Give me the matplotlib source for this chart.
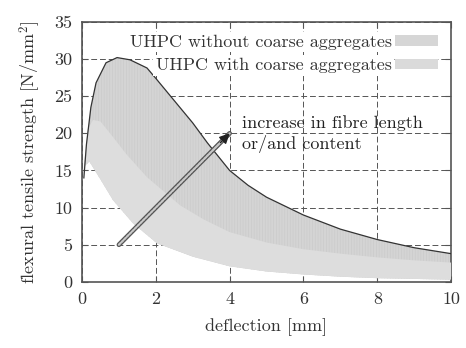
import matplotlib
matplotlib.use("Agg")
import matplotlib.pyplot as plt
from matplotlib.patches import Patch
import numpy as np

plt.rcParams['font.family'] = ['cmr10', 'DejaVu Serif']
plt.rcParams['mathtext.fontset'] = 'cm'
plt.rcParams['axes.unicode_minus'] = False
plt.rcParams['hatch.linewidth'] = 0.5

# UHPC without coarse aggregates - upper bound
upper_x = [0.05, 0.12, 0.24, 0.38, 0.65, 0.95, 1.3, 1.76, 2.0, 2.4, 3.0, 3.4,
           4.0, 4.5, 5.0, 6.0, 7.0, 8.0, 9.0, 10.0]
upper_y = [14.0, 18.5, 23.5, 26.8, 29.5, 30.2, 29.9, 28.8, 27.4, 25.0, 21.4, 18.7,
           15.0, 13.0, 11.4, 9.0, 7.1, 5.7, 4.6, 3.8]

# UHPC with coarse aggregates - upper bound
mid_x = [0.05, 0.15, 0.3, 0.5, 0.84, 1.2, 1.76, 2.66, 3.3, 4.0, 5.0, 6.0, 7.0,
         8.0, 9.0, 10.0]
mid_y = [15.5, 20.5, 21.8, 21.6, 19.5, 17.2, 14.1, 10.3, 8.4, 6.7, 5.3, 4.4, 3.8,
         3.3, 2.9, 2.6]

# common lower bound
lower_x = [0.05, 0.2, 0.5, 0.84, 1.38, 2.03, 3.0, 4.0, 5.0, 6.0, 7.0, 8.0, 9.0, 10.0]
lower_y = [15.5, 16.2, 13.8, 11.0, 7.9, 5.2, 3.4, 2.1, 1.4, 1.0, 0.7, 0.5, 0.4, 0.3]

arrow_start = (1.0, 5.0)
arrow_end = (4.0, 20.0)

fig = plt.figure(figsize=(4.66, 3.48), dpi=100)
ax = fig.add_axes([0.176, 0.190, 0.792, 0.747])

ax.set_axisbelow(True)
ax.grid(True, linestyle=(0, (6, 3)), color='#555555', linewidth=0.7)

# band 1: between upper curve and lower curve
poly_x = np.concatenate([upper_x, lower_x[::-1]])
poly_y = np.concatenate([upper_y, lower_y[::-1]])
ax.fill(poly_x, poly_y, facecolor='#d4d4d4', edgecolor='#cbcbcb', linewidth=0,
        hatch='||||||', zorder=2)
ax.plot(upper_x, upper_y, color='#333333', linewidth=0.9, zorder=4)

# band 2: between middle curve and lower curve
poly2_x = np.concatenate([mid_x, lower_x[::-1]])
poly2_y = np.concatenate([mid_y, lower_y[::-1]])
ax.fill(poly2_x, poly2_y, facecolor='#dddddd', edgecolor='none', zorder=3)

# arrow
ax.annotate('', xy=arrow_end, xytext=arrow_start,
            arrowprops=dict(arrowstyle='-', color='#555555', lw=3.4,
                            shrinkA=0, shrinkB=0), zorder=5)
ax.annotate('', xy=arrow_end, xytext=arrow_start,
            arrowprops=dict(arrowstyle='-', color='#c8c8c8', lw=1.6,
                            linestyle=(0, (1, 0.7)), shrinkA=0, shrinkB=0), zorder=6)
ax.annotate('', xy=arrow_end, xytext=(3.75, 18.75),
            arrowprops=dict(arrowstyle='-|>,head_length=0.6,head_width=0.3',
                            color='#222222', lw=1, shrinkA=0, shrinkB=0), zorder=7)

ax.text(4.34, 19.9, 'increase in fibre length\nor/and content', fontsize=13,
        ha='left', va='center', linespacing=1.3, color='#222222', zorder=8)

ax.set_xlim(0, 10)
ax.set_ylim(0, 35)
ax.set_xticks([0, 2, 4, 6, 8, 10])
ax.set_yticks([0, 5, 10, 15, 20, 25, 30, 35])
ax.tick_params(direction='in', top=True, right=True, labelsize=13, length=4,
               color='#555555', labelcolor='#333333', pad=7)
for s in ax.spines.values():
    s.set_color('#555555')
    s.set_linewidth(1.2)

ax.set_xlabel('deflection [mm]', fontsize=13, color='#333333', labelpad=8)
ax.set_ylabel(r'flexural tensile strength [N/mm$^2$]', fontsize=13,
              color='#333333', labelpad=8)

handles = [Patch(facecolor='#d6d6d6', edgecolor='none'),
           Patch(facecolor='#dadada', edgecolor='none')]
leg = ax.legend(handles, ['UHPC without coarse aggregates', 'UHPC with coarse aggregates'],
                loc='upper right', markerfirst=False, fontsize=13, frameon=False,
                handlelength=2.4, handleheight=0.5, handletextpad=0.2,
                borderaxespad=0.5, labelspacing=0.45, borderpad=0.2)
leg.set_zorder(10)
for t in leg.get_texts():
    t.set_ha('right')
    t.set_color('#333333')
    t.set_bbox(dict(facecolor='white', edgecolor='none', pad=1.5))

fig.savefig('out.png', dpi=100)
